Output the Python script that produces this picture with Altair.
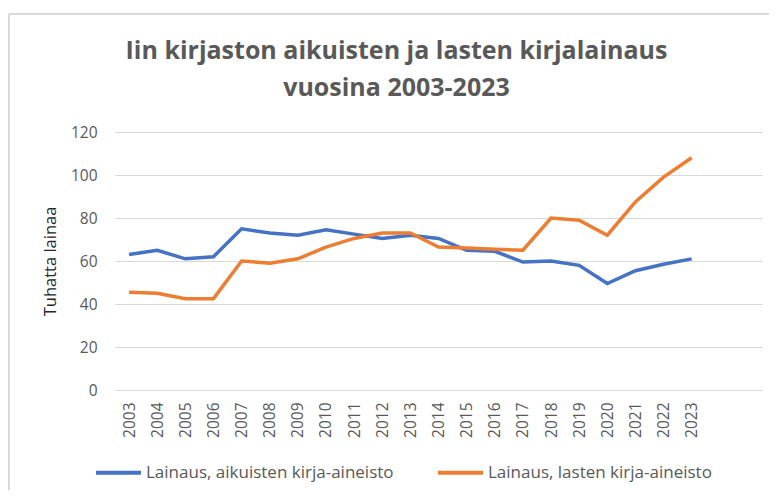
import altair as alt
import pandas as pd

years = [2003, 2004, 2005, 2006, 2007, 2008, 2009, 2010, 2011, 2012, 2013,
         2014, 2015, 2016, 2017, 2018, 2019, 2020, 2021, 2022, 2023]
adult = [63, 65, 61, 62, 75, 73, 72, 74.5, 72.5, 70.5, 72,
         70.5, 65, 64.5, 59.5, 60, 58, 49.5, 55.5, 58.5, 61]
children = [45.5, 45, 42.5, 42.5, 60, 59, 61, 66.5, 70.5, 73, 73,
            66.5, 66, 65.5, 65, 80, 79, 72, 87.5, 99, 108]
series_names = ["Lainaus, aikuisten kirja-aineisto", "Lainaus, lasten kirja-aineisto"]
series_colors = ["#4472C4", "#ED7D31"]
y_ticks = [0, 20, 40, 60, 80, 100, 120]

rows = []
for name, vals in zip(series_names, [adult, children]):
    for yr, v in zip(years, vals):
        rows.append({"Vuosi": yr, "Lainat": v, "Sarja": name})
df = pd.DataFrame(rows)

FONT = "Open Sans"
GREY = "#595959"

lines = alt.Chart(df).mark_line(strokeWidth=3.5).encode(
    x=alt.X("Vuosi:Q",
            scale=alt.Scale(domain=[2002.5, 2025.5], nice=False, zero=False),
            axis=alt.Axis(values=years, format="d", labelAngle=-90, grid=False,
                          ticks=False, domain=False, title=None, labelPadding=12,
                          labelFontSize=15.5, labelColor=GREY, labelFont=FONT)),
    y=alt.Y("Lainat:Q",
            scale=alt.Scale(domain=[0, 120], nice=False),
            axis=alt.Axis(values=y_ticks, ticks=False, domain=False,
                          gridColor="#D9D9D9", gridWidth=1,
                          labelPadding=18, labelFontSize=15.5, labelColor=GREY,
                          labelFont=FONT, title="Tuhatta lainaa",
                          titleFont=FONT, titleFontSize=16.5, titleFontWeight="normal",
                          titleColor="#262626", titlePadding=12)),
    color=alt.Color("Sarja:N",
                    scale=alt.Scale(domain=series_names, range=series_colors),
                    legend=alt.Legend(title=None, orient="none", direction="horizontal",
                                      legendX=-21, legendY=316,
                                      symbolType="stroke", symbolSize=2025,
                                      symbolStrokeWidth=4, labelFontSize=17,
                                      labelColor=GREY, labelFont=FONT,
                                      labelOffset=3, columnPadding=36,
                                      labelLimit=400)),
)

border = alt.Chart(df).mark_rect(fill=None, stroke="#D9D9D9", strokeWidth=1).encode(
    x=alt.value(-106), x2=alt.value(700), y=alt.value(-118), y2=alt.value(400)
)

chart = alt.layer(border, lines).properties(
    width=647,
    height=258,
    autosize=alt.AutoSizeParams(type="none"),
    padding={"left": 107, "top": 124, "right": 7, "bottom": 100},
    title=alt.TitleParams(
        text=["Iin kirjaston aikuisten ja lasten kirjalainaus", "vuosina 2003-2023"],
        font=FONT, fontSize=25, fontWeight="bold", color=GREY,
        anchor="middle", dx=-42, offset=0, dy=87, lineHeight=37,
    ),
).configure_view(stroke=None)

chart.save("out.html", embed_options={"renderer": "svg", "actions": False})
